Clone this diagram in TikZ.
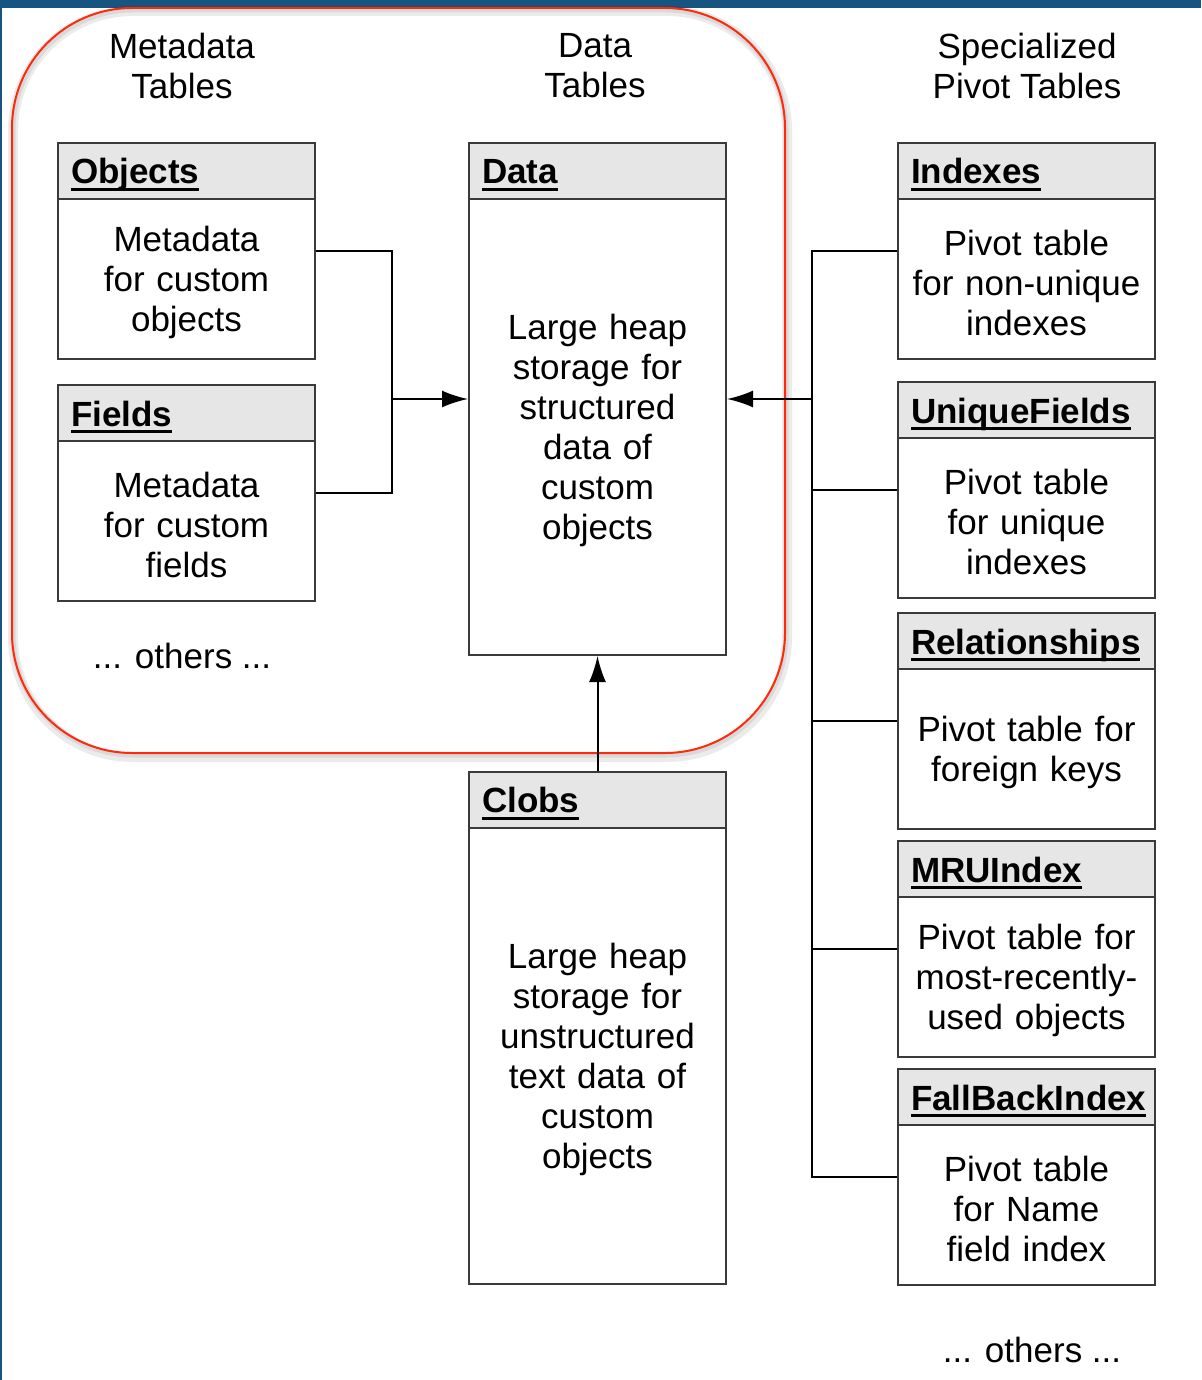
\documentclass[tikz,border=0pt]{standalone}
\usepackage{fontspec}
\setmainfont{Liberation Sans}
\usetikzlibrary{arrows.meta,positioning}
\definecolor{hdrgray}{HTML}{E6E6E6}
\definecolor{boxline}{HTML}{3A3A3A}
\definecolor{groupred}{HTML}{FF2A0A}
\definecolor{edgeblue}{HTML}{15557F}
\newcommand\tabhead[1]{\setbox0\hbox{#1}\rlap{\rule[-3.5pt]{\wd0}{1.5pt}}\box0}

\begin{document}
\begin{tikzpicture}[x=0.5pt,y=-0.5pt]
\tikzset{tbl/.style={draw=boxline,line width=1pt,minimum width=128.5pt,inner sep=0pt},
  hdr/.style={draw=boxline,line width=1pt,fill=hdrgray,minimum height=28pt,text width=115.5pt,
    inner xsep=6.5pt,inner ysep=0pt,text height=15.5pt,text depth=2.5pt,align=left,
    font=\bfseries\fontsize{17.5}{20}\selectfont},
  tbody/.style={minimum height=#1,text width=120pt,inner sep=0pt,align=center,
    yshift=-1.2pt,font=\fontsize{17.5}{20}\selectfont},
  tbody/.default=80pt,
  grptitle/.style={align=center,font=\fontsize{17.5}{20}\selectfont},
  arr/.style={-{Latex[length=13pt,width=8.5pt]}},
  link/.style={line width=1pt}}
\useasboundingbox (0,0) rectangle (1201,1380);
\fill[edgeblue] (0,0) rectangle (1201,8);
\fill[edgeblue] (0,0) rectangle (2,1380);

% group of metadata and data tables
\draw[black,opacity=.08,line width=5pt,rounded corners=60pt] (13,11) rectangle (787,757);
\draw[black,opacity=.08,line width=2.5pt,rounded corners=60pt] (13,10) rectangle (786,755);
\draw[groupred,line width=1pt,rounded corners=60pt] (12,8) rectangle (785,753);

\node[grptitle] (meta-t) at (182,66) {Metadata\\Tables};
\node[grptitle] (data-t) at (595,66) {Data\\Tables};
\node[grptitle] (piv-t) at (1027,66) {Specialized\\Pivot Tables};

% metadata tables
\node[tbl,minimum height=108pt] (obj) at (186.5,251) {};
\node[hdr,below=0pt of obj.north] (obj-h) {\tabhead{Objects}};
\node[tbody,below=0pt of obj-h] (obj-b) {Metadata\\for custom\\objects};

\node[tbl,minimum height=108pt] (fld) at (186.5,493) {};
\node[hdr,below=0pt of fld.north] (fld-h) {\tabhead{Fields}};
\node[tbody,below=0pt of fld-h] (fld-b) {Metadata\\for custom\\fields};

\node[grptitle] (meta-o) at (182,656) {... others ...};

% data tables
\node[tbl,minimum height=256pt] (data) at (597.5,399) {};
\node[hdr,below=0pt of data.north] (data-h) {\tabhead{Data}};
\node[tbody=228pt,below=0pt of data-h] (data-b) {Large heap\\storage for\\structured\\data of\\custom\\objects};

\node[tbl,minimum height=256pt] (clob) at (597.5,1027.5) {};
\node[hdr,below=0pt of clob.north] (clob-h) {\tabhead{Clobs}};
\node[tbody=228pt,below=0pt of clob-h] (clob-b) {Large heap\\storage for\\unstructured\\text data of\\custom\\objects};

% pivot tables
\node[tbl,minimum height=108pt] (idx) at (1026.5,251) {};
\node[hdr,below=0pt of idx.north] (idx-h) {\tabhead{Indexes}};
\node[tbody,below=0pt of idx-h] (idx-b) {Pivot table\\for non-unique\\indexes};

\node[tbl,minimum height=108pt] (uniq) at (1026.5,490) {};
\node[hdr,below=0pt of uniq.north] (uniq-h) {\tabhead{UniqueFields}};
\node[tbody,below=0pt of uniq-h] (uniq-b) {Pivot table\\for unique\\indexes};

\node[tbl,minimum height=108pt] (rel) at (1026.5,721) {};
\node[hdr,below=0pt of rel.north] (rel-h) {\tabhead{Relationships}};
\node[tbody,below=0pt of rel-h] (rel-b) {Pivot table for\\foreign keys};

\node[tbl,minimum height=108pt] (mru) at (1026.5,949) {};
\node[hdr,below=0pt of mru.north] (mru-h) {\tabhead{MRUIndex}};
\node[tbody,below=0pt of mru-h] (mru-b) {Pivot table for\\most-recently-\\used objects};

\node[tbl,minimum height=108pt] (fall) at (1026.5,1177) {};
\node[hdr,below=0pt of fall.north] (fall-h) {\tabhead{FallBackIndex}};
\node[tbody,below=0pt of fall-h] (fall-b) {Pivot table\\for Name\\field index};

\node[grptitle] (piv-o) at (1032,1350) {... others ...};

% links
\coordinate (lj) at (392,399);
\coordinate (rj) at (812,399);
\draw[link] (obj.east) -| (lj) |- (fld.east);
\draw[link,arr] (lj) -- (data.west);
\draw[link] (idx.west) -| (rj) |- (fall.west);
\foreach \t in {uniq,rel,mru}
  \draw[link] (\t.west) -- (\t.west -| rj);
\draw[link,arr] (rj) -- (data.east);
\draw[link,arr] (clob.north) -- (data.south);
\end{tikzpicture}
\end{document}
